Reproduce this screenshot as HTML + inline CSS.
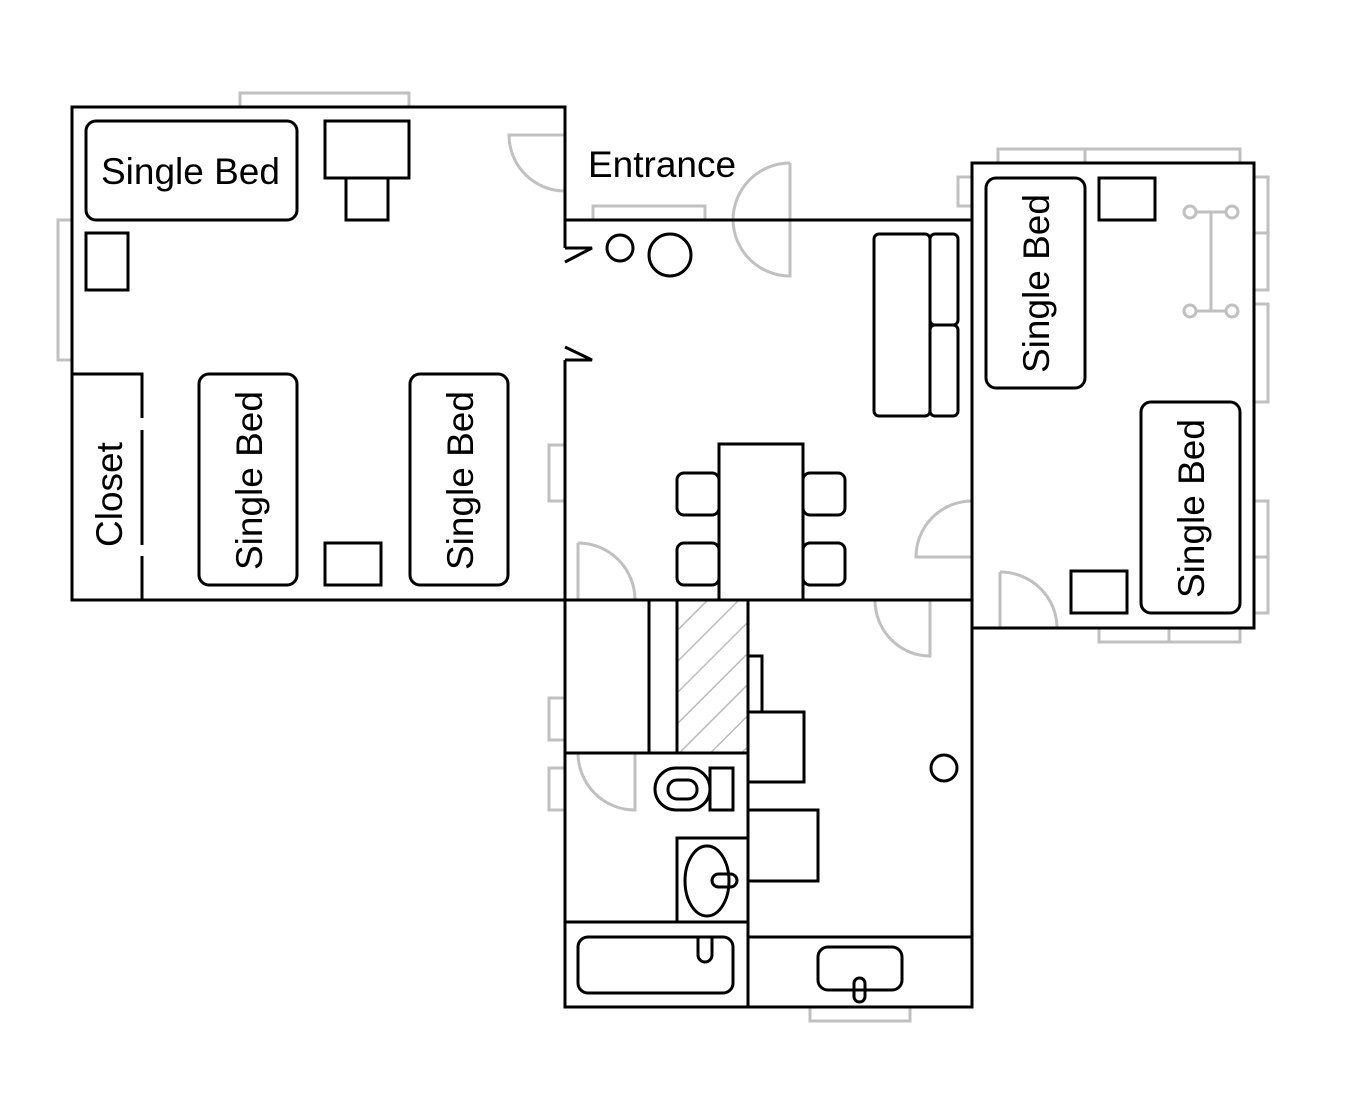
<!DOCTYPE html><html><head><style>body{margin:0;background:#fff}svg{display:block}text{font-family:"Liberation Sans",sans-serif;font-size:37px;fill:#000}</style></head><body>
<svg width="1359" height="1108" viewBox="0 0 1359 1108" xmlns="http://www.w3.org/2000/svg">
<defs><pattern id="h" width="22" height="22" patternUnits="userSpaceOnUse" patternTransform="rotate(45)"><line x1="0" y1="0" x2="0" y2="22" stroke="#bbb" stroke-width="3"/></pattern></defs>
<g fill="#fff" stroke="#c0c0c0" stroke-width="3">
<rect x="240" y="93" width="169" height="14"/><rect x="58" y="220" width="14" height="140"/>
<rect x="593" y="206" width="112" height="14"/>
<rect x="549" y="445" width="16" height="56"/><rect x="549" y="698" width="16" height="42"/><rect x="549" y="768" width="16" height="42"/>
<rect x="810" y="1007" width="100" height="14"/>
<rect x="998" y="149" width="87" height="14"/><rect x="1085" y="149" width="155" height="14"/>
<rect x="958" y="177" width="14" height="29"/>
<rect x="1254" y="177" width="14" height="56"/><rect x="1254" y="233" width="14" height="57"/><rect x="1254" y="304" width="14" height="98"/>
<rect x="1254" y="501" width="14" height="56"/><rect x="1254" y="557" width="14" height="56"/>
<rect x="1099" y="628" width="70" height="14"/><rect x="1169" y="628" width="71" height="14"/>
<path fill="none" d="M565,135 H509 A56,56 0 0 0 565,191 Z"/>
<path fill="none" d="M790,163 V276 A57,57 0 0 1 733,220 A57,57 0 0 1 790,163"/>
<path fill="none" d="M972,501 V557 H916 A56,56 0 0 1 972,501"/>
<path fill="none" d="M578,543 V600 H635 A57,57 0 0 0 578,543"/>
<path fill="none" d="M875,600 H930 V656 A55,56 0 0 1 875,600"/>
<path fill="none" d="M1000,572 V628 H1057 A57,56 0 0 0 1000,572"/>
<path fill="none" d="M578,753 H635 V810 A57,57 0 0 1 578,753"/>
<path fill="none" d="M1190,212 H1232 M1211,212 V311 M1190,311 H1232"/>
<circle cx="1190" cy="212" r="6"/><circle cx="1232" cy="212" r="6"/><circle cx="1190" cy="311" r="6"/><circle cx="1232" cy="311" r="6"/>
</g>
<rect x="677" y="600" width="71" height="153" fill="url(#h)"/>
<g fill="none" stroke="#000" stroke-width="3">
<path d="M565,248 V107 H72 V600 H972"/>
<path d="M565,360 V1007 H972 V163 H1254 V628 H972"/>
<path d="M565,220 H972"/>
<path d="M565,248 H592 L565,262 M565,347 L592,360 H565"/>
<path d="M72,374 H142 V418 M142,430 V545 M142,556 V600"/>
<rect x="86" y="121" width="211" height="99" rx="10"/>
<rect x="325" y="121" width="84" height="57"/><rect x="346" y="178" width="42" height="42"/>
<rect x="86" y="233" width="42" height="57"/>
<rect x="199" y="374" width="98" height="211" rx="10"/><rect x="410" y="374" width="98" height="211" rx="10"/>
<rect x="325" y="543" width="56" height="42"/>
<circle cx="620" cy="248" r="13"/><circle cx="670" cy="255" r="21"/>
<rect x="874" y="234" width="56" height="182" rx="5"/><rect x="930" y="234" width="28" height="91" rx="5"/><rect x="930" y="325" width="28" height="91" rx="5"/>
<rect x="719" y="444" width="84" height="156"/>
<rect x="677" y="473" width="42" height="42" rx="7"/><rect x="677" y="543" width="42" height="42" rx="7"/>
<rect x="803" y="473" width="42" height="42" rx="7"/><rect x="803" y="543" width="42" height="42" rx="7"/>
<rect x="986" y="178" width="99" height="210" rx="10"/><rect x="1141" y="402" width="99" height="211" rx="10"/>
<rect x="1099" y="178" width="56" height="42"/><rect x="1071" y="571" width="56" height="42"/>
<path d="M748,600 V1007 M565,753 H748 M565,922 H748 M748,937 H972 M649,600 V753 M677,600 V753"/>
<rect x="748" y="656" width="14" height="56"/><rect x="748" y="712" width="56" height="70"/>
<rect x="748" y="810" width="70" height="71"/>
<rect x="655" y="768" width="55" height="42" rx="21"/><rect x="668" y="780" width="29" height="19" rx="9"/>
<rect x="710" y="768" width="23" height="42"/>
<rect x="677" y="838" width="71" height="84"/><ellipse cx="707" cy="881" rx="22" ry="35"/>
<rect x="712" y="874" width="25" height="13" rx="6.5"/>
<circle cx="944" cy="768" r="13"/>
<rect x="578" y="937" width="155" height="56" rx="10"/><path d="M698,937 V955 A7,7 0 0 0 712,955 V937"/>
<rect x="818" y="947" width="84" height="43" rx="10"/><rect x="854" y="978" width="11" height="24" rx="5.5"/>
</g>
<text x="101" y="184">Single Bed</text>
<text x="588" y="177">Entrance</text>
<text transform="translate(122,547) rotate(-90)">Closet</text>
<text transform="translate(262,570) rotate(-90)">Single Bed</text>
<text transform="translate(473,570) rotate(-90)">Single Bed</text>
<text transform="translate(1049,373) rotate(-90)">Single Bed</text>
<text transform="translate(1204,598) rotate(-90)">Single Bed</text>
</svg></body></html>
